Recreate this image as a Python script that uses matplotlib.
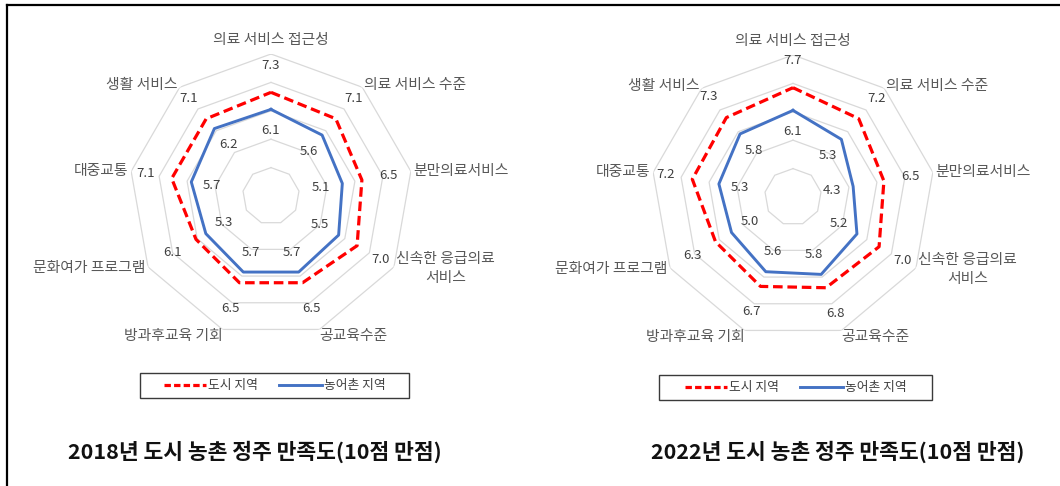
import numpy as np
import matplotlib
matplotlib.use("Agg")
import matplotlib.pyplot as plt
from matplotlib.lines import Line2D
from matplotlib.patches import Rectangle

plt.rcParams["font.family"] = ["Noto Sans CJK KR", "DejaVu Sans"]

# ---------- Data ----------
categories = [
    "의료 서비스 접근성", "의료 서비스 수준", "분만의료서비스", "신속한 응급의료\n서비스",
    "공교육수준", "방과후교육 기회", "문화여가 프로그램", "대중교통", "생활 서비스",
]
urban_2018 = [7.3, 7.1, 6.5, 7.0, 6.5, 6.5, 6.1, 7.1, 7.1]
rural_2018 = [6.1, 5.6, 5.1, 5.5, 5.7, 5.7, 5.3, 5.7, 6.2]
urban_2022 = [7.7, 7.2, 6.5, 7.0, 6.8, 6.7, 6.3, 7.2, 7.3]
rural_2022 = [6.1, 5.3, 4.3, 5.2, 5.8, 5.6, 5.0, 5.3, 5.8]
series_names = ["도시 지역", "농어촌 지역"]
titles = ["2018년 도시 농촌 정주 만족도(10점 만점)", "2022년 도시 농촌 정주 만족도(10점 만점)"]
rings = [2, 4, 6, 8, 10]

RED = "#ff0000"
BLUE = "#4472c4"
GRID = "#d9d9d9"

W, H = 1060, 486
fig = plt.figure(figsize=(W / 100, H / 100), dpi=100)


def px_rect(x0, y0, w, h):
    """pixel box (top-left origin) -> figure fraction"""
    return [x0 / W, (H - y0 - h) / H, w / W, h / H]


def radar(cx, cy, rad, urban, rural):
    ax = fig.add_axes(px_rect(cx - rad, cy - rad, 2 * rad, 2 * rad), projection="polar")
    ax.set_theta_zero_location("N")
    ax.set_theta_direction(-1)
    ax.set_ylim(0, 10)
    ax.grid(False)
    ax.spines["polar"].set_visible(False)
    ax.set_xticks([])
    ax.set_yticks([])

    n = len(categories)
    theta = np.arange(n) * 2 * np.pi / n
    closed = np.append(theta, theta[0])

    for r in rings:
        ax.plot(closed, [r] * (n + 1), color=GRID, lw=0.9, zorder=1)

    ax.plot(closed, np.append(urban, urban[0]), color=RED, lw=2.3, dashes=(3.0, 1.5), zorder=3)
    ax.plot(closed, np.append(rural, rural[0]), color=BLUE, lw=2.1, zorder=3)

    # data labels
    for t, v in zip(theta, urban):
        ax.text(t, v + 1.9, f"{v:.1f}", ha="center", va="center", fontsize=9.5, color="#404040")
    for t, v in zip(theta, rural):
        ax.text(t, v - 1.5, f"{v:.1f}", ha="center", va="center", fontsize=9.5, color="#404040")

    # category labels
    for i, (t, lab) in enumerate(zip(theta, categories)):
        s = np.sin(t)
        c = np.cos(t)
        if abs(s) < 0.05:
            ha = "center"
        elif s > 0:
            ha = "left"
        else:
            ha = "right"
        if c > 0.95:
            va, r = "bottom", 10.5
        elif c < -0.9:
            va, r = "top", 10.0
        else:
            va, r = "center", 10.2
        ax.text(t, r, lab, ha=ha, va=va, fontsize=10.7, color="#595959",
                multialignment="center", linespacing=1.5)
    return ax


def legend_box(x0, y0, w, h):
    handles = [Line2D([], [], color=RED, lw=2.3, dashes=(2.0, 1.0)),
               Line2D([], [], color=BLUE, lw=2.1)]
    cx = (x0 + w / 2) / W
    cy = (H - y0 - h / 2) / H
    fig.legend(handles, series_names, loc="center", bbox_to_anchor=(cx, cy), ncol=2,
               frameon=False, fontsize=9.2, handlelength=3.3, handletextpad=0.15,
               columnspacing=1.7, labelcolor="#404040")
    fig.add_artist(Rectangle((x0 / W, (H - y0 - h) / H), w / W, h / H,
                             transform=fig.transFigure, fill=False, ec="#3a3a3a", lw=1.0))


radar(271, 196, 142, urban_2018, rural_2018)
radar(793, 197, 142, urban_2022, rural_2022)

legend_box(140, 373, 269, 25)
legend_box(659, 375, 273, 25)

fig.text(255 / W, 1 - 452 / H, titles[0], ha="center", va="center", fontsize=15.5,
         fontweight="bold", color="#111111")
fig.text(838 / W, 1 - 452 / H, titles[1], ha="center", va="center", fontsize=15.5,
         fontweight="bold", color="#111111")

# outer border (top and left)
fig.add_artist(Line2D([7 / W, 1], [1 - 5 / H, 1 - 5 / H], transform=fig.transFigure,
                      color="black", lw=1.6))
fig.add_artist(Line2D([7 / W, 7 / W], [0, 1 - 5 / H], transform=fig.transFigure,
                      color="black", lw=1.6))

fig.savefig("out.png", dpi=100)
